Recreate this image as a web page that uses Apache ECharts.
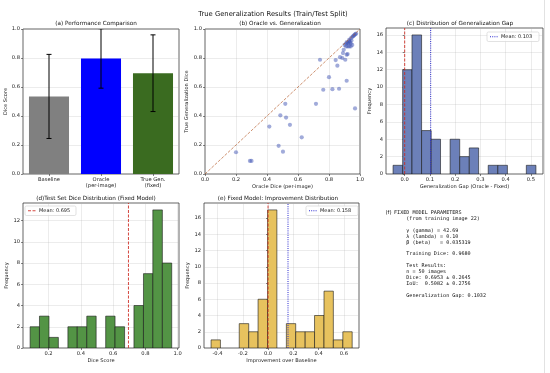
<!DOCTYPE html>
<html><head><meta charset="utf-8">
<script src="https://cdn.jsdelivr.net/npm/echarts@6/dist/echarts.min.js"></script>
<style>html,body{margin:0;padding:0;background:#fff}#c{width:550px;height:373px}</style>
</head><body><div id="c"></div>
<script>
// ---------- data ----------
const perfCategories = ['Baseline', 'Oracle\n(per-image)', 'True Gen.\n(fixed)'];
const perfMeans = [0.535, 0.797, 0.695];
const perfStd = [0.29, 0.205, 0.2645];

const oracleDice = [0.20,0.29,0.30,0.415,0.475,0.486,0.503,0.518,0.523,0.548,0.624,0.716,0.742,0.763,0.80,0.822,0.843,0.854,0.865,0.871,0.886,0.89,0.895,0.905,0.914,0.914,0.92,0.968,
  0.93,0.94,0.95,0.955,0.96,0.965,0.97,0.975,0.90,0.91,0.92,0.93,0.925,0.935,0.94,0.93,0.94,0.92,0.91,0.95,0.945,0.915];
const trueGenDice = [0.15,0.09,0.09,0.327,0.194,0.405,0.154,0.484,0.389,0.339,0.253,0.484,0.788,0.581,0.668,0.585,0.786,0.747,0.588,0.806,0.80,0.834,0.857,0.788,0.643,0.823,0.827,0.452,
  0.925,0.935,0.945,0.95,0.955,0.96,0.965,0.968,0.89,0.90,0.905,0.915,0.90,0.91,0.90,0.88,0.88,0.88,0.88,0.89,0.92,0.91];
const diagonal = [[0, 0], [1, 1]];

const gapEdges = [-0.046,-0.008,0.029,0.067,0.105,0.142,0.180,0.218,0.256,0.293,0.331,0.369,0.407,0.444,0.482,0.520];
const gapCounts = [1,12,16,5,4,0,4,2,3,0,1,1,0,0,1];
const gapMean = 0.103;

const testEdges = [0.086,0.144,0.203,0.261,0.320,0.378,0.437,0.495,0.554,0.612,0.671,0.729,0.788,0.846,0.905,0.963];
const testCounts = [2,3,1,0,2,2,3,0,3,2,0,4,7,13,8];
const testMean = 0.695;

const impEdges = [-0.451,-0.377,-0.302,-0.228,-0.153,-0.079,-0.004,0.070,0.145,0.219,0.294,0.368,0.443,0.517,0.592,0.666];
const impCounts = [1,0,0,3,2,6,17,0,3,2,2,4,7,1,2];
const impMean = 0.158;

const unitTicks = [0, 0.2, 0.4, 0.6, 0.8, 1.0];
const gapXTicks = [0, 0.1, 0.2, 0.3, 0.4, 0.5];
const gapYTicks = [0, 2, 4, 6, 8, 10, 12, 14, 16];
const testXTicks = [0.2, 0.4, 0.6, 0.8, 1.0];
const testYTicks = [0, 2, 4, 6, 8, 10, 12];
const impXTicks = [-0.4, -0.2, 0, 0.2, 0.4, 0.6];
const impYTicks = [0, 2, 4, 6, 8, 10, 12, 14, 16];

const paramLines = [
  'FIXED MODEL PARAMETERS',
  '    (from training image 22)',
  '',
  '    γ (gamma) = 42.69',
  '    λ (lambda) = 0.10',
  '    β (beta)   = 0.035319',
  '',
  '    Training Dice: 0.9680',
  '',
  '    Test Results:',
  '    n = 50 images',
  '    Dice: 0.6953 ± 0.2645',
  '    IoU:  0.5082 ± 0.2756',
  '',
  '    Generalization Gap: 0.1032'
];

// ---------- styling ----------
const FF = 'DejaVu Sans';
const TICK = 5.2, NAME = 5.1, TITLE = 5.7;
const gridLine = {show: true, lineStyle: {color: 'rgba(176,176,176,0.4)', width: 0.6}};
const tickStyle = {show: true, length: 2, lineStyle: {color: '#333', width: 0.6}};
const labelStyle = {fontFamily: FF, fontSize: TICK, color: '#222', margin: 3};
const RED = 'rgba(205,40,30,0.85)';
const BLUE = '#2a2ad0';

const grids = [
  {left: 23, top: 29, width: 156, height: 145},
  {left: 205, top: 29, width: 155, height: 145},
  {left: 386, top: 28, width: 157, height: 146},
  {left: 23, top: 203, width: 156, height: 145},
  {left: 204, top: 203, width: 155, height: 145}
].map(g => Object.assign({show: true, borderColor: '#222', borderWidth: 0.7, backgroundColor: 'transparent'}, g));

function fmt1(v) { return (Math.round(v * 10) / 10).toFixed(1); }

function valAxis(gi, min, max, ticks, name, gap, fmt, extra) {
  return Object.assign({
    type: 'value', gridIndex: gi, min, max,
    axisLine: {show: false}, axisTick: Object.assign({customValues: ticks}, tickStyle),
    axisLabel: Object.assign({customValues: ticks, formatter: fmt}, labelStyle),
    splitLine: gridLine,
    name, nameLocation: 'middle', nameGap: gap,
    nameTextStyle: {fontFamily: FF, fontSize: NAME, color: '#222'}
  }, extra || {});
}

function histSeries(edges, counts, gi, color) {
  const data = counts.map((c, i) => [edges[i], edges[i + 1], c]);
  return {
    type: 'custom', xAxisIndex: gi, yAxisIndex: gi, data, clip: true,
    encode: {x: [0, 1], y: 2},
    renderItem: (params, api) => {
      const h = api.value(2);
      if (!h) return null;
      const p0 = api.coord([api.value(0), h]);
      const p1 = api.coord([api.value(1), 0]);
      return {type: 'rect', shape: {x: p0[0], y: p0[1], width: p1[0] - p0[0], height: p1[1] - p0[1]},
        style: {fill: color, stroke: '#1a1a1a', lineWidth: 0.6}};
    }
  };
}

function vLine(gi, x, ymax, color, dash, z) {
  return {type: 'line', xAxisIndex: gi, yAxisIndex: gi, data: [[x, 0], [x, ymax]],
    symbol: 'none', silent: true, z: z || 5,
    lineStyle: {color, width: 1, type: dash}};
}

function legendBox(x, y, w, color, dash, text) {
  return [
    {type: 'rect', shape: {x, y, width: w, height: 9.5, r: 1.5}, style: {fill: 'rgba(255,255,255,0.85)', stroke: '#cfcfcf', lineWidth: 0.6}, z: 100},
    {type: 'line', shape: {x1: x + 3, y1: y + 4.75, x2: x + 11, y2: y + 4.75}, style: {stroke: color, lineWidth: 1, lineDash: dash}, z: 101},
    {type: 'text', x: x + 14, y: y + 5, style: {text, fontFamily: FF, fontSize: 5.0, fill: '#222', verticalAlign: 'middle'}, z: 101}
  ];
}

function titleText(x, y, text, size) {
  return {type: 'text', x, y, style: {text, fontFamily: FF, fontSize: size, fill: '#111', align: 'center', verticalAlign: 'middle'}};
}

const option = {
  backgroundColor: '#fff',
  animation: false,
  grid: grids,
  xAxis: [
    {type: 'category', gridIndex: 0, data: perfCategories,
      axisLine: {show: false}, axisTick: Object.assign({alignWithLabel: true}, tickStyle),
      axisLabel: Object.assign({}, labelStyle, {lineHeight: 6}), splitLine: {show: false}},
    valAxis(1, 0, 1, unitTicks, 'Oracle Dice (per-image)', 10, fmt1),
    valAxis(2, -0.074, 0.548, gapXTicks, 'Generalization Gap (Oracle - Fixed)', 10, fmt1),
    valAxis(3, 0.042, 1.008, testXTicks, 'Dice Score', 10, fmt1),
    valAxis(4, -0.507, 0.72, impXTicks, 'Improvement over Baseline', 10, fmt1)
  ],
  yAxis: [
    valAxis(0, 0, 1, unitTicks, 'Dice Score', 13.5, fmt1),
    valAxis(1, 0, 1, unitTicks, 'True Generalization Dice', 15.5, fmt1),
    valAxis(2, 0, 16.8, gapYTicks, 'Frequency', 11.5, v => String(v)),
    valAxis(3, 0, 13.65, testYTicks, 'Frequency', 11.5, v => String(v)),
    valAxis(4, 0, 17.85, impYTicks, 'Frequency', 11.5, v => String(v))
  ],
  series: [
    {type: 'bar', xAxisIndex: 0, yAxisIndex: 0, barWidth: '77%',
      data: perfMeans.map((v, i) => ({value: v, itemStyle: {color: ['#808080', '#0000ff', '#3a6b20'][i]}}))},
    {type: 'custom', xAxisIndex: 0, yAxisIndex: 0, clip: true, z: 10,
      data: perfMeans.map((m, i) => [i, m - perfStd[i], m + perfStd[i]]),
      encode: {x: 0, y: [1, 2]},
      renderItem: (params, api) => {
        const lo = api.coord([api.value(0), api.value(1)]);
        const hi = api.coord([api.value(0), api.value(2)]);
        const st = {stroke: '#000', lineWidth: 1};
        return {type: 'group', children: [
          {type: 'line', shape: {x1: lo[0], y1: lo[1], x2: hi[0], y2: hi[1]}, style: st},
          {type: 'line', shape: {x1: lo[0] - 2.5, y1: lo[1], x2: lo[0] + 2.5, y2: lo[1]}, style: st},
          {type: 'line', shape: {x1: hi[0] - 2.5, y1: hi[1], x2: hi[0] + 2.5, y2: hi[1]}, style: st}
        ]};
      }},
    {type: 'line', xAxisIndex: 1, yAxisIndex: 1, data: diagonal, symbol: 'none', silent: true,
      lineStyle: {color: 'rgba(180,90,40,0.75)', width: 0.9, type: [3, 1.5]}},
    {type: 'scatter', xAxisIndex: 1, yAxisIndex: 1, symbolSize: 4.2,
      data: oracleDice.map((x, i) => [x, trueGenDice[i]]),
      itemStyle: {color: 'rgba(65,85,180,0.62)'}},
    histSeries(gapEdges, gapCounts, 2, '#6c80b9'),
    vLine(2, 0, 16.8, RED, [3, 1.5]),
    vLine(2, gapMean, 16.8, BLUE, [1, 1.2]),
    histSeries(testEdges, testCounts, 3, '#539445'),
    vLine(3, testMean, 13.65, RED, [3, 1.5]),
    histSeries(impEdges, impCounts, 4, '#e7c25e'),
    vLine(4, 0, 17.85, RED, [3, 1.5]),
    vLine(4, impMean, 17.85, BLUE, [1, 1.2])
  ],
  graphic: [
    titleText(273, 14, 'True Generalization Results (Train/Test Split)', 6.8),
    titleText(96, 24, '(a) Performance Comparison', TITLE),
    titleText(280, 24, '(b) Oracle vs. Generalization', TITLE),
    titleText(460, 23.5, '(c) Distribution of Generalization Gap', TITLE),
    titleText(96, 198.5, '(d)Test Set Dice Distribution (Fixed Model)', TITLE),
    titleText(278, 198.5, '(e) Fixed Model: Improvement Distribution', TITLE),
    ...legendBox(487, 32, 52, BLUE, [1, 1.2], 'Mean: 0.103'),
    ...legendBox(25, 206, 51, RED, [3, 1.5], 'Mean: 0.695'),
    ...legendBox(306, 206, 52, BLUE, [1, 1.2], 'Mean: 0.158'),
    {type: 'text', x: 385.5, y: 212.5, style: {text: '(f)', fontFamily: FF, fontSize: 5.4, fill: '#111', verticalAlign: 'middle'}},
    {type: 'text', x: 394, y: 209.5, style: {text: paramLines.join('\n'), fontFamily: 'DejaVu Sans Mono', fontSize: 5.1, lineHeight: 5.95, fill: '#111', verticalAlign: 'top'}},
    {type: 'line', shape: {x1: 544.5, y1: 0, x2: 544.5, y2: 373}, style: {stroke: '#e2e2e2', lineWidth: 1}}
  ]
};

const chart = echarts.init(document.getElementById('c'), null, {renderer: 'canvas'});
chart.setOption(option);
</script>
</body></html>
